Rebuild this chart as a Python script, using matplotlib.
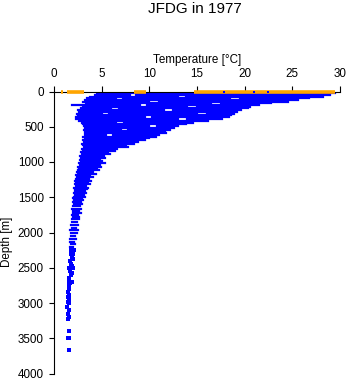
import matplotlib
matplotlib.use("Agg")
import matplotlib.pyplot as plt

plt.rcParams['font.family'] = ['Liberation Sans', 'DejaVu Sans']

# profile rows: depth [m], temperature start / end [degC] of each run of observations
seg_depth = [28, 50, 50, 72, 72, 95, 95, 95, 120, 145, 145, 170, 170, 190, 190,
             215, 215, 240, 240, 265, 265, 290, 315, 315, 315, 340, 365, 365,
             390, 390, 415, 440, 440, 465, 490, 490, 515, 540, 540, 565, 590,
             615, 615, 640, 665, 690, 715, 740, 765, 790, 815, 840, 865, 890,
             915, 940, 965, 990, 1015, 1040, 1065, 1090, 1115, 1140, 1165, 1190,
             1215, 1240, 1265, 1290, 1315, 1340, 1365, 1390, 1415, 1440, 1465,
             1490, 1515, 1540, 1570, 1600, 1630, 1660, 1690, 1720, 1750, 1780,
             1810, 1850, 1890, 1930, 1970, 2010, 2050, 2090, 2130, 2170, 2210]
seg_t0 = [4.5, 4.3, 8.6, 3.8, 13.8, 3.5, 7.2, 19.5, 3.2, 3.0, 11.0, 3.4, 17.5, 1.9, 9.8,
          3.0, 15.0, 2.8, 6.8, 2.5, 12.5, 2.6, 2.4, 5.8, 16.0, 2.5, 2.3, 10.3,
          2.3, 14.0, 2.6, 2.9, 7.3, 3.0, 3.1, 10.8, 3.2, 3.1, 7.8, 3.3, 3.2,
          3.2, 6.2, 3.0, 3.2, 3.0, 3.1, 2.9, 3.0, 3.1, 2.9, 3.0, 2.8, 2.9,
          2.7, 2.8, 2.7, 2.8, 2.6, 2.7, 2.5, 2.6, 2.5, 2.4, 2.5, 2.3,
          2.4, 2.3, 2.2, 2.3, 2.2, 2.3, 2.1, 2.2, 2.2, 2.1, 2.2,
          2.1, 2.0, 2.1, 2.0, 2.1, 2.0, 1.9, 2.0, 2.0, 1.9, 2.0,
          1.9, 1.9, 1.8, 1.9, 1.7, 1.8, 1.8, 1.7, 1.7, 1.8, 1.7]
seg_t1 = [29.5, 8.0, 29.0, 13.0, 28.2, 6.5, 18.5, 26.8, 25.6, 10.0, 24.5, 16.5, 22.8, 9.0, 21.5,
          14.0, 20.6, 6.0, 20.3, 11.5, 19.6, 19.2, 5.0, 15.0, 18.9, 18.6, 9.5, 18.4,
          13.0, 17.6, 16.2, 6.5, 14.6, 13.8, 10.0, 13.0, 12.6, 7.0, 12.2, 11.6, 11.8,
          5.5, 11.0, 10.7, 10.0, 9.5, 8.8, 8.4, 7.6, 7.8, 6.6, 6.4, 5.7, 5.9,
          5.2, 5.4, 4.8, 5.0, 5.3, 4.8, 4.9, 4.5, 4.7, 4.1, 4.4, 3.8,
          4.1, 3.7, 3.9, 3.6, 3.8, 3.4, 3.6, 3.5, 3.2, 3.4, 3.1,
          3.3, 2.9, 3.0, 2.8, 2.9, 2.7, 2.8, 2.6, 2.8, 2.5, 2.6,
          2.6, 2.4, 2.5, 2.3, 2.5, 2.4, 2.2, 2.3, 2.1, 2.2, 2.0]

# sparse deep observations
deep_depth = [2250, 2250, 2300, 2300, 2350, 2380, 2400, 2450, 2480, 2500, 2500, 2550,
              2580, 2600, 2650, 2700, 2700, 2720, 2750, 2800, 2850, 2880, 2920, 2950,
              2980, 3000, 3050, 3100, 3150, 3200, 3230, 3400, 3500, 3500, 3660]
deep_temp = [1.8, 2.1, 1.75, 2.0, 1.9, 2.0, 1.7, 1.8, 1.9, 1.6, 2.0, 1.7,
             1.9, 1.8, 1.6, 1.55, 1.85, 1.7, 1.6, 1.55, 1.5, 1.6, 1.5, 1.6,
             1.5, 1.6, 1.4, 1.55, 1.5, 1.55, 1.5, 1.55, 1.45, 1.6, 1.55]

# surface (0 m) values, highlighted
surf_t0 = [0.7, 1.4, 8.4, 14.7]
surf_t1 = [0.95, 3.15, 9.65, 29.5]
surf_blue = [17.8, 21.0, 22.4]

fig = plt.figure(figsize=(3.48, 3.84), dpi=100)
ax = fig.add_axes([54 / 348, 1 - 373.5 / 384, 286 / 348, 282 / 384])

ax.hlines(seg_depth, seg_t0, seg_t1, colors='#0000FF', linewidth=1.6, capstyle='projecting')
ax.plot(deep_temp, deep_depth, 's', color='#0000FF', markersize=2.2, mew=0)
ax.hlines([0] * len(surf_t0), surf_t0, surf_t1, colors='#FFA500', linewidth=2.6,
          clip_on=False, zorder=4)
ax.plot(surf_blue, [0] * len(surf_blue), 's', color='#0000FF', markersize=1.5, mew=0,
        clip_on=False, zorder=5)

ax.set_xlim(0, 30)
ax.set_ylim(4000, 0)
ax.set_xticks([0, 5, 10, 15, 20, 25, 30])
ax.set_yticks(range(0, 4001, 500))

for s in ['right', 'bottom']:
    ax.spines[s].set_visible(False)
for s in ['top', 'left']:
    ax.spines[s].set_linewidth(0.8)
ax.xaxis.tick_top()
ax.tick_params(axis='x', direction='out', length=4.3, width=0.8, pad=4, labelsize=8.4)
ax.tick_params(axis='y', direction='out', length=3.8, width=0.8, pad=3.6, labelsize=8.4)

fig.text(195 / 348, 1 - 9 / 384, 'JFDG in 1977', ha='center', va='center', fontsize=11)
fig.text(197 / 348, 1 - 60 / 384, 'Temperature [°C]', ha='center', va='center', fontsize=8.4)
fig.text(7 / 348, 1 - 242 / 384, 'Depth [m]', ha='center', va='center', fontsize=8.4,
         rotation=90)

fig.savefig('out.png', dpi=100)
